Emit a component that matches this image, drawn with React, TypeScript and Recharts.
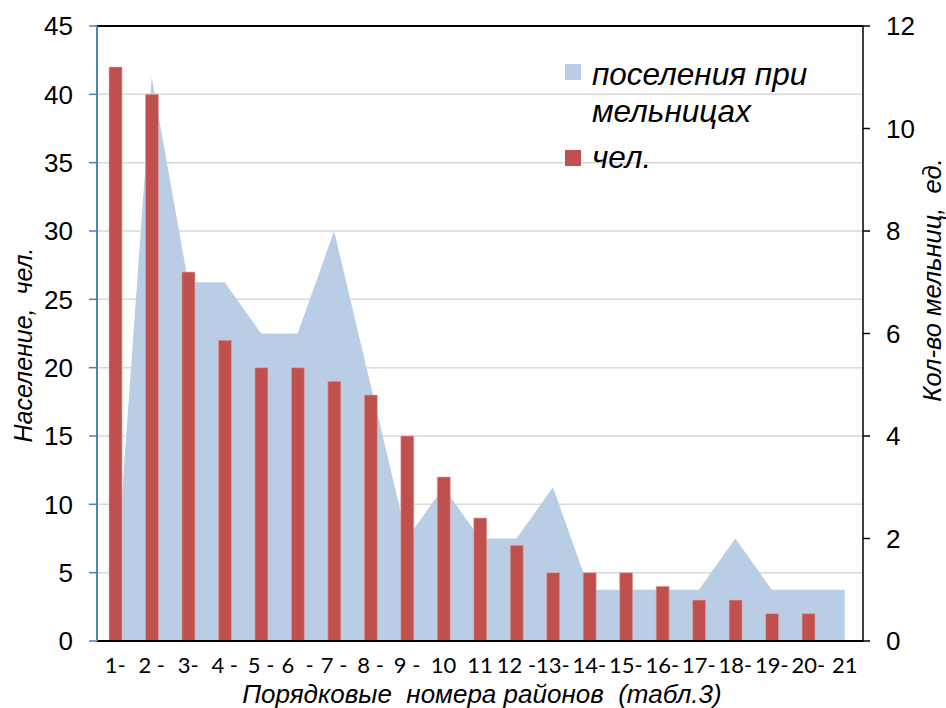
import { ComposedChart, Area, Bar, XAxis, YAxis, CartesianGrid, Legend, ReferenceLine } from 'recharts';

// district labels along the x axis (as printed in the source figure)
const categories = ['1-', '2 -', '3-', '4 -', '5 -', '6\u00A0 -', '7 -', '8 -', '9 -', '10', '11', '12 -', '13-', '14-', '15-', '16-', '17-', '18-', '19-', '20-', '21'];

// population, people (left axis)
const population = [42, 40, 27, 22, 20, 20, 19, 18, 15, 12, 9, 7, 5, 5, 5, 4, 3, 3, 2, 2, null];

// settlements with mills, count (right axis)
const mills = [1, 11, 7, 7, 6, 6, 8, 5, 2, 3, 2, 2, 3, 1, 1, 1, 1, 2, 1, 1, 1];

const leftTicks = [0, 5, 10, 15, 20, 25, 30, 35, 40, 45];
const rightTicks = [0, 2, 4, 6, 8, 10, 12];

const seriesNames = ['поселения при мельницах', 'чел.'];
const AREA_COLOR = '#b9cde5';
const BAR_COLOR = '#c0504d';
const FONT = '"Liberation Sans", Arial, sans-serif';

function LegendBox() {
  const colors = [AREA_COLOR, BAR_COLOR];
  return (
    <div style={{ fontFamily: FONT, fontStyle: 'italic', fontSize: 31.5, lineHeight: '37px', color: '#000' }}>
      {seriesNames.map((name, i) => (
        <div key={name} style={{ display: 'flex', alignItems: 'flex-start', marginTop: i === 0 ? 0 : 9 }}>
          <span style={{ width: 16, height: 16, background: colors[i], marginTop: i === 0 ? 8 : 11, marginRight: 11, flex: 'none' }} />
          <span style={{ width: 240 }}>{name}</span>
        </div>
      ))}
    </div>
  );
}

export default function App() {
  const data = categories.map((name, i) => ({ name, mills: mills[i], people: population[i] }));

  return (
    <div style={{ position: 'absolute', left: 0, top: 0, width: 946, height: 708, background: '#fff' }}>
      <ComposedChart width={946} height={708} data={data} margin={{ top: 26, right: 0, bottom: 0, left: 0 }}>
        <CartesianGrid vertical={false} yAxisId="left" stroke="#d9d9d9" strokeWidth={1.5} />
        <XAxis
          dataKey="name"
          interval={0}
          height={67}
          tickSize={0}
          tickMargin={16}
          tickLine={false}
          axisLine={{ stroke: '#000', strokeWidth: 2 }}
          tick={{ fill: '#000', fontSize: 22, fontFamily: 'Lato, sans-serif' }}
          label={() => (
            <text x={482} y={703} textAnchor="middle" fontFamily={FONT} fontStyle="italic" fontSize={26} fill="#000" style={{ whiteSpace: 'pre' }}>
              Порядковые  номера районов  (табл.3)
            </text>
          )}
        />
        <YAxis
          yAxisId="left"
          width={97}
          domain={[0, 45]}
          ticks={leftTicks}
          tickSize={8}
          tickMargin={16}
          axisLine={{ stroke: '#4f81bd', strokeWidth: 2 }}
          tickLine={{ stroke: '#4f81bd', strokeWidth: 1.5 }}
          tick={{ fill: '#000', fontSize: 26, fontFamily: FONT }}
          label={() => (
            <text x={32} y={345} transform="rotate(-90 32 345)" textAnchor="middle" fontFamily={FONT} fontStyle="italic" fontSize={25} fill="#000" style={{ whiteSpace: 'pre' }}>
              Население,  чел.
            </text>
          )}
        />
        <YAxis
          yAxisId="right"
          orientation="right"
          width={83}
          domain={[0, 12]}
          ticks={rightTicks}
          tickSize={7}
          tickMargin={16}
          axisLine={{ stroke: '#000', strokeWidth: 1.5 }}
          tickLine={{ stroke: '#000', strokeWidth: 1.5 }}
          tick={{ fill: '#000', fontSize: 26, fontFamily: FONT }}
          label={() => (
            <text x={941} y={280} transform="rotate(-90 941 280)" textAnchor="middle" fontFamily={FONT} fontStyle="italic" fontSize={25.5} fill="#000" style={{ whiteSpace: 'pre' }}>
              Кол-во мельниц,  ед.
            </text>
          )}
        />
        <ReferenceLine yAxisId="left" y={45} stroke="#000" strokeWidth={2} />
        <Area
          yAxisId="right"
          type="linear"
          dataKey="mills"
          name={seriesNames[0]}
          fill={AREA_COLOR}
          fillOpacity={1}
          stroke="none"
          isAnimationActive={false}
        />
        <Bar
          yAxisId="left"
          dataKey="people"
          name={seriesNames[1]}
          fill={BAR_COLOR}
          stroke="#e2a9a7"
          strokeWidth={0.6}
          barSize={13}
          isAnimationActive={false}
        />
        <Legend
          layout="horizontal"
          verticalAlign="middle"
          align="center"
          content={() => <LegendBox />}
          wrapperStyle={{ left: 565, top: 56, width: 285, height: 'auto' }}
        />
      </ComposedChart>
    </div>
  );
}
